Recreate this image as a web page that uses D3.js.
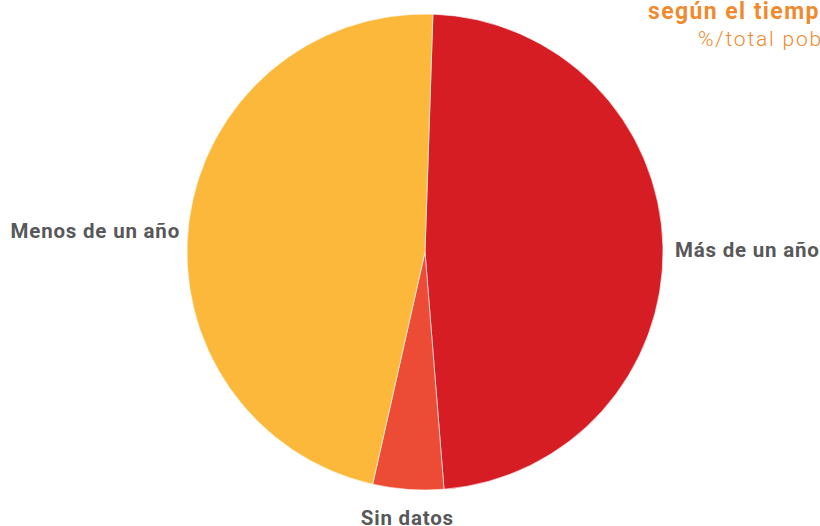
<!DOCTYPE html>
<html>
<head>
<meta charset="utf-8">
<script src="https://cdn.jsdelivr.net/npm/d3@7"></script>
<style>
  body { margin: 0; background: #fff; }
  svg { display: block; }
  .lbl { font-family: Roboto, "DejaVu Sans", sans-serif; font-weight: bold; font-size: 20.5px; letter-spacing: 0.8px; fill: #58585a; }
</style>
</head>
<body>
<div id="chart"></div>
<script>
// data
var categories = ['Más de un año', 'Sin datos', 'Menos de un año'];
var values     = [48.2, 4.8, 47.0];
var colours    = ['#d71d24', '#ec4b35', '#fbb83a'];

var W = 820, H = 526;
var cx = 425, cy = 252, R = 238;

var svg = d3.select('#chart').append('svg')
  .attr('width', W).attr('height', H);

var data = categories.map(function(c, i){ return {name: c, value: values[i], colour: colours[i]}; });

var startA = 1.9 * Math.PI / 180;
var pie = d3.pie().sort(null).value(function(d){ return d.value; })
  .startAngle(startA).endAngle(startA + 2 * Math.PI);

var arc = d3.arc().innerRadius(0).outerRadius(R);

var g = svg.append('g').attr('transform', 'translate(' + cx + ',' + cy + ')');

var slices = pie(data);

g.selectAll('path.slice')
  .data(slices)
  .enter().append('path')
  .attr('class', 'slice')
  .attr('d', arc)
  .attr('fill', function(d){ return d.data.colour; })
  .attr('stroke', '#fff')
  .attr('stroke-width', 0.6);

// labels outside the pie
function labelPos(d) {
  var a = (d.startAngle + d.endAngle) / 2;
  var r = R + 12;
  return [Math.sin(a) * r, -Math.cos(a) * r, a];
}

// small nudges so labels sit where the original had them
var nudge = {'Más de un año': 4, 'Sin datos': 16, 'Menos de un año': 11};

g.selectAll('text.lbl')
  .data(slices)
  .enter().append('text')
  .attr('class', 'lbl')
  .each(function(d){
    var p = labelPos(d);
    var s = Math.sin(p[2]);
    var anchor = Math.abs(s) < 0.3 ? 'middle' : (s > 0 ? 'start' : 'end');
    d3.select(this)
      .attr('x', p[0] + (anchor === 'end' ? 3 : 0))
      .attr('y', p[1] + nudge[d.data.name])
      .attr('dy', '0.35em')
      .attr('text-anchor', anchor)
      .text(d.data.name);
  });

// title (cut off at the right edge in the original)
svg.append('text')
  .attr('x', 648).attr('y', 19)
  .attr('font-family', 'Roboto, "DejaVu Sans", sans-serif')
  .attr('font-weight', 'bold').attr('font-size', 23)
  .attr('letter-spacing', 1.4)
  .attr('fill', '#f08a2e')
  .text('según el tiempo de residencia');

svg.append('text')
  .attr('x', 698).attr('y', 46)
  .attr('font-family', 'Roboto, "DejaVu Sans", sans-serif')
  .attr('font-weight', 300).attr('font-size', 21)
  .attr('letter-spacing', 1.8)
  .attr('fill', '#f08a2e')
  .text('%/total población');
</script>
</body>
</html>
